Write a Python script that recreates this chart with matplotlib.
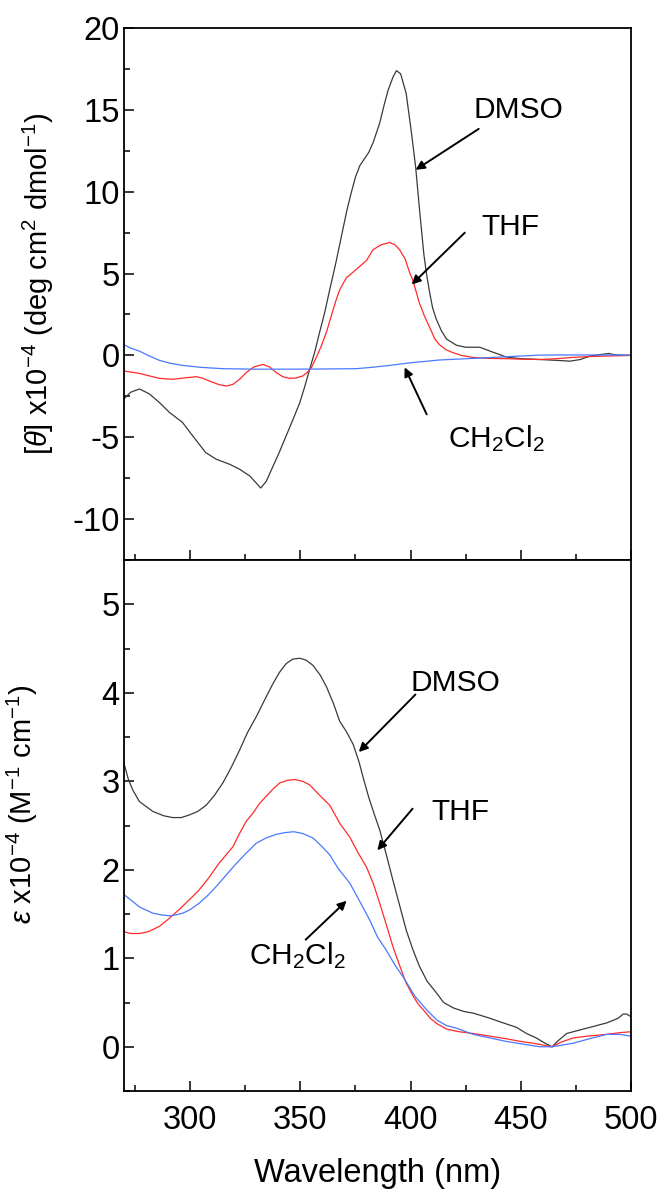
import matplotlib

matplotlib.use("Agg")
import matplotlib.pyplot as plt
from matplotlib.ticker import MultipleLocator

plt.rcParams["font.family"] = ["Liberation Sans", "DejaVu Sans"]
plt.rcParams["mathtext.fontset"] = "custom"
plt.rcParams["mathtext.rm"] = "Liberation Sans"
plt.rcParams["mathtext.it"] = "Liberation Sans:italic"
plt.rcParams["axes.unicode_minus"] = False

# --- CD spectra (top panel), [theta] x 1e-4 ---
cd_dmso_wl = [270, 273, 277, 281.5, 286, 290.6, 296.5, 301.2, 307, 311.8, 317.9, 322.4, 327,
              330, 332, 334.5, 337.5, 340.5, 343.6, 347, 349.7, 352, 354.2, 356.5, 358.7, 361,
              363.3, 366, 368.5, 371, 373, 375, 377, 379, 381, 383, 386, 388, 389.8, 392,
              393.6, 395.5, 398, 400.4, 402.3, 404.2, 406, 407.2, 408.7, 410, 411.7, 414,
              416.3, 420.8, 425, 431.4, 437.3, 443.5, 450, 458.6, 466, 472.3, 477, 481.4, 486,
              490, 492, 495, 500]
cd_dmso = [-2.65, -2.25, -2.05, -2.35, -2.87, -3.48, -4.09, -4.92, -5.93, -6.34, -6.65, -6.95,
           -7.36, -7.8, -8.1, -7.7, -6.8, -5.9, -4.9, -3.8, -2.9, -1.9, -0.85, 0.2, 1.4, 2.6,
           4.0, 5.6, 7.2, 8.8, 9.9, 10.9, 11.6, 12.0, 12.4, 13.0, 14.2, 15.3, 16.2, 17.0,
           17.4, 17.2, 16.0, 13.6, 11.5, 8.7, 6.2, 5.0, 3.8, 2.9, 2.2, 1.5,
           1.0, 0.62, 0.5, 0.5, 0.2, -0.1, -0.2, -0.25, -0.3, -0.35, -0.25, -0.04, 0.05,
           0.12, 0.05, 0.02, 0.0]

cd_thf_wl = [270, 277, 286, 292, 297, 302.7, 305.5, 308.8, 313, 316.4, 319.4, 322.5, 325.5,
             329, 333, 336, 339, 342, 345, 348, 351, 353, 355, 357.3, 359.5, 362, 364, 366,
             367.8, 370.9, 374, 377, 380, 383, 386.5, 390.5, 393, 395, 397.5, 399.6, 401,
             402.5, 404, 406.3, 408.7, 411, 413, 416, 419, 423, 428, 435, 443.5, 451, 458.6,
             466, 473.7, 481, 489, 500]
cd_thf = [-0.95, -1.1, -1.4, -1.46, -1.38, -1.3, -1.38, -1.57, -1.78, -1.87, -1.77, -1.45, -1.04,
          -0.7, -0.55, -0.7, -1.04, -1.3, -1.4, -1.38, -1.26, -1.05, -0.75, -0.1, 0.57, 1.5, 2.4,
          3.3, 4.0, 4.75, 5.1, 5.45, 5.8, 6.46, 6.75, 6.9, 6.75, 6.46, 5.9, 5.05, 4.6,
          3.9, 3.2, 2.4, 1.7, 1.0, 0.67, 0.35, 0.18, 0.0, -0.12, -0.18, -0.2, -0.23, -0.25,
          -0.2, -0.12, -0.07, -0.04, 0.0]

cd_dcm_wl = [270, 273, 277, 281, 286, 291, 296.5, 305, 314.7, 330, 345, 360, 375.4, 383, 390.5,
             400, 413, 428.4, 443.5, 458.6, 475, 500]
cd_dcm = [0.65, 0.45, 0.26, 0.0, -0.3, -0.48, -0.61, -0.73, -0.81, -0.84, -0.84, -0.83, -0.81,
          -0.72, -0.61, -0.45, -0.28, -0.18, -0.08, 0.02, 0.03, 0.02]

# --- UV-vis spectra (bottom panel), epsilon x 1e-4 ---
uv_dmso_wl = [270, 272, 274, 277, 283, 288, 292, 296, 299.7, 303.5, 307.3, 311, 314.8, 318.5,
              322.4, 326, 330, 334, 337.5, 340.5, 343.6, 346.5, 349.7, 352.5, 355.7, 359, 361.8,
              365, 367.8, 370.9, 373.9, 376.6, 378.4, 381, 383.5, 386, 389, 392, 395, 398, 401,
              404, 407.5, 411.7, 415, 419.3, 424, 428.4, 435, 442, 448, 452.6, 457, 461, 464.2,
              467, 470.8, 476.8, 483, 489, 494, 496.5, 498, 500]
uv_dmso = [3.2, 3.02, 2.9, 2.77, 2.66, 2.61, 2.59, 2.59, 2.62, 2.66, 2.73, 2.84, 2.98, 3.15,
           3.35, 3.55, 3.73, 3.93, 4.1, 4.23, 4.33, 4.38, 4.39, 4.37, 4.31, 4.2, 4.07,
           3.88, 3.68, 3.56, 3.42, 3.22, 3.05, 2.82, 2.63, 2.45, 2.17, 1.88, 1.6, 1.32, 1.1,
           0.91, 0.74, 0.61, 0.5, 0.44, 0.4, 0.38, 0.33, 0.27, 0.22, 0.15, 0.1, 0.04, 0.0,
           0.07, 0.15, 0.19, 0.23, 0.27, 0.32, 0.37, 0.37, 0.34]

uv_thf_wl = [270, 273, 277, 281, 286, 290, 295, 300, 304, 308.5, 313, 316, 319.4, 322.4, 325.5,
             328.5, 331.5, 334.5, 337.5, 340.6, 344, 347.4, 351, 354.2, 358, 363.3, 368,
             372.4, 376, 380, 383, 386, 389, 392, 395, 398, 401, 403.5, 405.7, 409,
             412, 416.3, 422, 428.4, 436, 443.5, 450, 455.6, 460, 464.2, 468, 473.8, 480, 489,
             495, 500]
uv_thf = [1.3, 1.28, 1.28, 1.3, 1.36, 1.44, 1.55, 1.67, 1.77, 1.91, 2.07, 2.16, 2.26, 2.41, 2.55,
          2.64, 2.75, 2.83, 2.91, 2.98, 3.01, 3.02, 3.0, 2.96, 2.86, 2.73, 2.52,
          2.37, 2.2, 2.03, 1.85, 1.62, 1.38, 1.13, 0.92, 0.72, 0.58, 0.48, 0.42, 0.32,
          0.26, 0.2, 0.17, 0.15, 0.12, 0.09, 0.06, 0.04, 0.02, 0.0, 0.05, 0.1, 0.12, 0.14,
          0.16, 0.17]

uv_dcm_wl = [270, 273, 277, 283, 287, 290.6, 293.5, 296.7, 300, 304, 308, 311.8, 316, 320.9,
             325.5, 330, 334.5, 339, 343, 347, 351, 355.7, 359.5, 363.3, 367, 372.4, 377,
             381.5, 385, 389, 393, 396.6, 398.1, 402, 407.2, 412, 416.3, 420.8, 428.4, 436,
             443.5, 451, 458.6, 464.2, 469, 473.8, 481, 489, 495, 500]
uv_dcm = [1.72, 1.66, 1.58, 1.51, 1.49, 1.48, 1.49, 1.51, 1.55, 1.62, 1.71, 1.81, 1.93, 2.07,
          2.19, 2.3, 2.36, 2.4, 2.42, 2.43, 2.41, 2.36, 2.27, 2.17, 2.02, 1.85, 1.64,
          1.43, 1.24, 1.09, 0.92, 0.79, 0.73, 0.57, 0.42, 0.3, 0.24, 0.21, 0.14, 0.1,
          0.06, 0.03, 0.0, 0.0, 0.02, 0.04, 0.09, 0.14, 0.14, 0.12]

BLACK = "#3a3a3a"
RED = "#ff2a2a"
BLUE = "#4a78ff"


def style_axes(ax, ymin, ymax, ymajor, yminor, show_xlabels):
    ax.set_xlim(270, 500)
    ax.set_ylim(ymin, ymax)
    ax.xaxis.set_major_locator(MultipleLocator(50))
    ax.xaxis.set_minor_locator(MultipleLocator(25))
    ax.yaxis.set_major_locator(MultipleLocator(ymajor))
    ax.yaxis.set_minor_locator(MultipleLocator(yminor))
    ax.tick_params(which="both", direction="in", top=False, right=False, width=1.1,
                   labelsize=23.5)
    ax.tick_params(which="major", length=7.5)
    ax.tick_params(which="minor", length=4)
    ax.tick_params(axis="y", pad=3)
    ax.tick_params(axis="x", pad=10, labelbottom=show_xlabels)
    for spine in ax.spines.values():
        spine.set_linewidth(1.3)


def arrow(ax, tail, head):
    ax.annotate("", xy=head, xytext=tail,
                arrowprops=dict(arrowstyle="-|>", color="black", lw=1.4,
                                mutation_scale=13, shrinkA=0, shrinkB=0))


def main():
    fig = plt.figure(figsize=(6.6, 11.89), dpi=100)
    ax_cd = fig.add_axes([0.1879, 0.5290, 0.7682, 0.4474])
    ax_uv = fig.add_axes([0.1879, 0.0824, 0.7682, 0.4466])

    lw = 0.9
    ax_cd.plot(cd_dmso_wl, cd_dmso, color=BLACK, lw=lw)
    ax_cd.plot(cd_thf_wl, cd_thf, color=RED, lw=lw)
    ax_cd.plot(cd_dcm_wl, cd_dcm, color=BLUE, lw=lw)
    style_axes(ax_cd, -12.5, 20, 5, 2.5, False)
    ax_cd.set_ylabel(r"[$\theta$] x10$^{-4}$ (deg cm$^{2}$ dmol$^{-1}$)", fontsize=21)
    ax_cd.yaxis.set_label_coords(-0.135, 0.52)

    ax_cd.text(448.7, 15.0, "DMSO", fontsize=21.5, ha="center", va="center")
    arrow(ax_cd, (430.9, 13.84), (402.3, 11.34))
    ax_cd.text(445.5, 7.87, "THF", fontsize=21.5, ha="center", va="center")
    arrow(ax_cd, (424.6, 7.5), (400.5, 4.33))
    ax_cd.text(438.9, -5.61, r"CH$_2$Cl$_2$", fontsize=21.5, ha="center", va="baseline")
    arrow(ax_cd, (407.3, -3.6), (397.3, -0.73))

    ax_uv.plot(uv_dmso_wl, uv_dmso, color=BLACK, lw=lw)
    ax_uv.plot(uv_thf_wl, uv_thf, color=RED, lw=lw)
    ax_uv.plot(uv_dcm_wl, uv_dcm, color=BLUE, lw=lw)
    style_axes(ax_uv, -0.5, 5.5, 1, 0.5, True)
    ax_uv.set_ylabel(r"$\varepsilon$ x10$^{-4}$ (M$^{-1}$ cm$^{-1}$)", fontsize=21)
    ax_uv.yaxis.set_label_coords(-0.165, 0.54)
    ax_uv.set_xlabel("Wavelength (nm)", fontsize=23.5, labelpad=16)

    ax_uv.text(420.5, 4.11, "DMSO", fontsize=21.5, ha="center", va="center")
    arrow(ax_uv, (402.2, 3.98), (376.5, 3.33))
    ax_uv.text(422.8, 2.65, "THF", fontsize=21.5, ha="center", va="center")
    arrow(ax_uv, (400.9, 2.69), (384.9, 2.22))
    ax_uv.text(348.7, 0.93, r"CH$_2$Cl$_2$", fontsize=21.5, ha="center", va="baseline")
    arrow(ax_uv, (352.4, 1.21), (371.0, 1.65))

    fig.savefig("out.png", dpi=100)
    plt.close(fig)


if __name__ == "__main__":
    main()
